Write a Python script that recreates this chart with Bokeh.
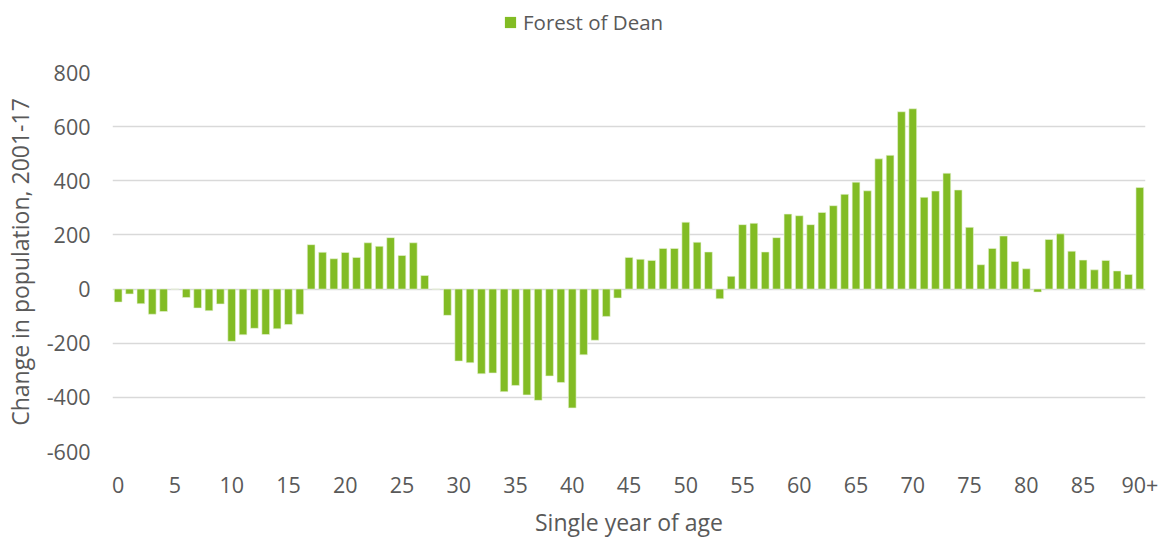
from bokeh.plotting import figure
from bokeh.layouts import column
from bokeh.models import ColumnDataSource, FixedTicker, Legend, LegendItem, Range1d
from bokeh.embed import file_html
from bokeh.resources import INLINE

ages = list(range(0, 91))
change = [
    -48, -18, -54, -93, -83, 0, -31, -70, -80, -55,
    -193, -169, -145, -168, -147, -131, -93, 164, 136, 112,
    135, 117, 171, 158, 190, 124, 171, 50, 0, -97,
    -266, -272, -313, -310, -379, -356, -391, -411, -321, -345,
    -439, -243, -189, -101, -33, 117, 110, 106, 150, 150,
    247, 173, 137, -36, 47, 238, 243, 137, 190, 277,
    271, 238, 283, 308, 350, 395, 363, 481, 494, 655,
    666, 339, 362, 428, 366, 228, 90, 150, 196, 102,
    75, -11, 183, 204, 140, 107, 71, 106, 67, 54,
    375,
]
tick_values = list(range(0, 91, 5))
tick_labels = {v: str(v) for v in tick_values}
tick_labels[90] = "90+"
y_ticks = [-600, -400, -200, 0, 200, 400, 600, 800]
y_labels = {v: str(v) for v in y_ticks}
series_name = "Forest of Dean"

FONT = "Open Sans"
TXT = "#595959"
GREEN = "#82BC24"
EDGE = "#E8F3D6"

src = ColumnDataSource(dict(age=ages, change=change))

# ---- legend strip (its renderer's bars fall outside its own ranges) ----
leg = figure(width=1162, height=50, output_backend="svg", toolbar_location=None,
             x_range=Range1d(-200, -199), y_range=Range1d(5000, 5001),
             min_border_left=0, min_border_right=0, min_border_top=0,
             min_border_bottom=0)
leg.axis.visible = False
leg.grid.visible = False
leg.outline_line_color = None
leg_r = leg.vbar(x="age", top="change", bottom=0, width=0.68, source=src,
                 fill_color=GREEN, line_color=None)
legend = Legend(items=[LegendItem(label=series_name, renderers=[leg_r])],
                location=(391, 14), orientation="horizontal",
                padding=0, margin=0, spacing=0,
                glyph_width=14, glyph_height=14, label_standoff=6,
                label_text_font=FONT, label_text_font_size="20.5px",
                label_text_color=TXT,
                border_line_color=None, background_fill_alpha=0)
leg.add_layout(legend, "center")

# ---- main chart ----
p = figure(width=1162, height=490, output_backend="svg", toolbar_location=None,
           x_range=Range1d(-0.5, 90.5), y_range=Range1d(-600, 800),
           min_border_left=111, min_border_right=17, min_border_top=22,
           min_border_bottom=87)
p.outline_line_color = None
p.background_fill_color = "white"
p.border_fill_color = "white"

p.vbar(x="age", top="change", bottom=0, width=0.68, source=src,
       fill_color=GREEN, line_color=EDGE, line_width=0.6)

p.xgrid.grid_line_color = None
p.ygrid.grid_line_color = "#D9D9D9"
p.ygrid.grid_line_width = 1.3

p.xaxis.ticker = FixedTicker(ticks=tick_values)
p.xaxis.major_label_overrides = tick_labels
p.yaxis.ticker = FixedTicker(ticks=y_ticks)
p.yaxis.major_label_overrides = y_labels

for ax in (p.xaxis, p.yaxis):
    ax.axis_line_color = None
    ax.major_tick_line_color = None
    ax.minor_tick_line_color = None
    ax.major_tick_out = 0
    ax.major_tick_in = 0
    ax.major_label_text_font = FONT
    ax.major_label_text_font_size = "21.5px"
    ax.major_label_text_color = TXT
    ax.axis_label_text_font = FONT
    ax.axis_label_text_font_size = "23px"
    ax.axis_label_text_color = TXT
    ax.axis_label_text_font_style = "normal"

p.xaxis.axis_label = "Single year of age"
p.yaxis.axis_label = "Change in population, 2001-17"
p.xaxis.major_label_standoff = 25
p.xaxis.axis_label_standoff = 10
p.yaxis.major_label_standoff = 22
p.yaxis.axis_label_standoff = 8

layout = column(leg, p, spacing=0)
open("out.html", "w").write(file_html(layout, INLINE))
